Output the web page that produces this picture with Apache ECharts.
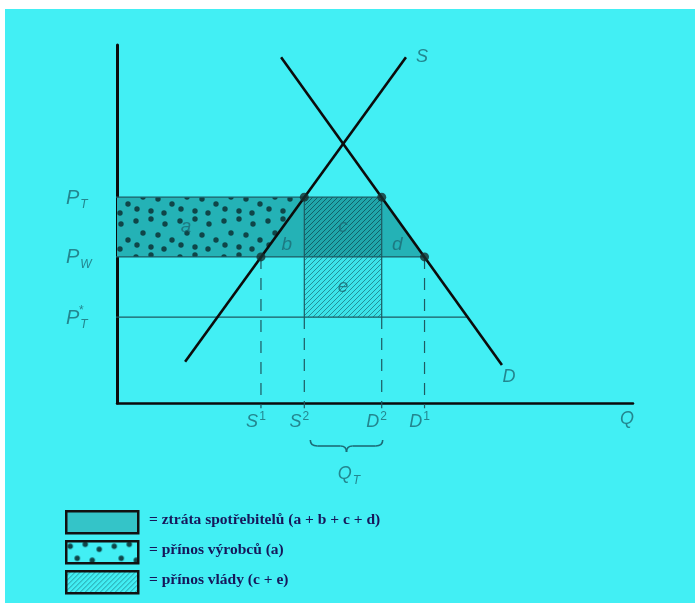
<!DOCTYPE html>
<html>
<head>
<meta charset="utf-8">
<script src="https://cdn.jsdelivr.net/npm/echarts@6/dist/echarts.min.js"></script>
<style>
html,body{margin:0;padding:0;background:#42eff4;overflow:hidden;}
#container{width:695px;height:603px;}
</style>
</head>
<body>
<div id="container"></div>
<script>
// cenové hladiny: P_T, P_W, P_T*
var priceValues = [57.5, 40.8, 24.0];
var priceLabels = ['{p|P}{sub|T}', '{p|P}{sub|W}', '{p|P}{sub|T}'];
// množství: S1, S2, D2, D1
var qValues = [27.9, 36.3, 51.3, 59.6];
var qLabels = ['{q|S}{sup|1}', '{q|S}{sup|2}', '{q|D}{sup|2}', '{q|D}{sup|1}'];
// nabídka a poptávka (koncové body)
var supplyLine = [[13.2, 11.5], [56.0, 96.6]];
var demandLine = [[31.8, 96.6], [74.6, 10.6]];
var tStarEnd = 67.8;
var areaLetters = ['a', 'b', 'c', 'd', 'e'];
var legendTexts = [
    '= ztráta spotřebitelů (a + b + c + d)',
    '= přínos výrobců (a)',
    '= přínos vlády (c + e)'
];

var PT = priceValues[0], PW = priceValues[1], PTs = priceValues[2];
var S1 = qValues[0], S2 = qValues[1], D2 = qValues[2], D1 = qValues[3];

var textColor = '#1c6b76';
var thinColor = '#1d5a62';

function dotPattern() {
    var c = document.createElement('canvas');
    c.width = 44; c.height = 36;
    var g = c.getContext('2d');
    g.fillStyle = '#0f4548';
    var pts = [[4,5],[19,3],[33,8],[11,17],[26,19],[40,24],[5,29],[19,31],[32,33]];
    pts.forEach(function (p) {
        g.beginPath(); g.arc(p[0], p[1], 2.7, 0, Math.PI * 2); g.fill();
    });
    return {image: c, repeat: 'repeat'};
}
function hatchPattern(col) {
    var c = document.createElement('canvas');
    c.width = 5; c.height = 5;
    var g = c.getContext('2d');
    g.strokeStyle = col; g.lineWidth = 1;
    g.beginPath();
    g.moveTo(0, 5); g.lineTo(5, 0);
    g.moveTo(-1, 1); g.lineTo(1, -1);
    g.moveTo(4, 6); g.lineTo(6, 4);
    g.stroke();
    return {image: c, repeat: 'repeat'};
}
var dots = dotPattern();
var hatch = hatchPattern('rgba(16,90,100,0.6)');
var hatchDark = hatchPattern('rgba(10,70,78,0.7)');

var regions = [
    {pts: [[0, PT], [D2, PT], [D1, PW], [0, PW]], fill: '#24b2b6'},
    {pts: [[0, PT], [S2, PT], [S1, PW], [0, PW]], fill: dots},
    {pts: [[S2, PT], [D2, PT], [D2, PW], [S2, PW]], fill: 'rgba(10,80,90,0.12)'},
    {pts: [[S2, PT], [D2, PT], [D2, PW], [S2, PW]], fill: hatchDark},
    {pts: [[S2, PW], [D2, PW], [D2, PTs], [S2, PTs]], fill: 'rgba(20,150,160,0.12)'},
    {pts: [[S2, PW], [D2, PW], [D2, PTs], [S2, PTs]], fill: hatch}
];

var letterPos = [
    [S1 * 0.48, (PT + PW) / 2],
    [S2 - 3.4, PW + 3.3],
    [(S2 + D2) / 2, (PT + PW) / 2],
    [D2 + 3.0, PW + 3.3],
    [(S2 + D2) / 2, (PW + PTs) / 2]
];

function lineSeries(data, color, width, dash) {
    return {
        type: 'line', data: data, symbol: 'none', clip: false, silent: true,
        lineStyle: {color: color, width: width, type: dash || 'solid'}, z: 3
    };
}

var series = [];
series.push({
    type: 'custom', silent: true, z: 1,
    data: regions.map(function (r, i) { return [i]; }),
    renderItem: function (params, api) {
        var r = regions[params.dataIndex];
        return {
            type: 'polygon',
            shape: {points: r.pts.map(function (p) { return api.coord(p); })},
            style: {fill: r.fill}
        };
    }
});
var priceEnds = [D2, D1, tStarEnd];
priceValues.forEach(function (p, i) {
    series.push(lineSeries([[-1.9, p], [priceEnds[i], p]], thinColor, 1.2));
});
series.push(lineSeries([[S2, PT], [S2, PTs]], thinColor, 1.2));
series.push(lineSeries([[D2, PT], [D2, PTs]], thinColor, 1.2));
series.push(lineSeries([[S1, PW], [S1, -1.5]], thinColor, 1.2, [12, 9]));
series.push(lineSeries([[S2, PTs], [S2, -1.5]], thinColor, 1.2, [12, 9]));
series.push(lineSeries([[D2, PTs], [D2, -1.5]], thinColor, 1.2, [12, 9]));
series.push(lineSeries([[D1, PW], [D1, -1.5]], thinColor, 1.2, [12, 9]));
var sLine = lineSeries(supplyLine, '#0c0c0c', 2.6); sLine.z = 5; series.push(sLine);
var dLine = lineSeries(demandLine, '#0c0c0c', 2.6); dLine.z = 5; series.push(dLine);

series.push({
    type: 'scatter', silent: true, z: 6, symbolSize: 9,
    itemStyle: {color: '#14302f'},
    data: [[S1, PW], [S2, PT], [D2, PT], [D1, PW]]
});

var baseFont = {fontFamily: 'Liberation Sans', fontStyle: 'italic', color: textColor};
function rich() {
    return {
        p: Object.assign({fontSize: 20}, baseFont),
        q: Object.assign({fontSize: 18}, baseFont),
        sub: Object.assign({fontSize: 12, padding: [14, 0, 0, 1]}, baseFont),
        sup: {fontFamily: 'Liberation Sans', fontSize: 12, color: textColor, padding: [0, 0, 10, 1]}
    };
}

// popisky cen
series.push({
    type: 'scatter', silent: true, symbolSize: 0, z: 7,
    data: priceValues.map(function (p, i) {
        return {value: [0, p], label: {formatter: priceLabels[i]}};
    }),
    label: {show: true, position: 'left', align: 'left', distance: 0, offset: [-51, 1], rich: rich()}
});
series.push({
    type: 'scatter', silent: true, symbolSize: 0, z: 7,
    data: [[0, PTs]],
    label: {show: true, position: 'left', align: 'left', distance: 0, offset: [-38, -6],
        formatter: '*', fontFamily: 'Liberation Sans', fontSize: 12, color: textColor}
});
// popisky množství
series.push({
    type: 'scatter', silent: true, symbolSize: 0, z: 7,
    data: qValues.map(function (q, i) {
        return {value: [q, 0], label: {formatter: qLabels[i]}};
    }),
    label: {show: true, position: 'bottom', distance: 0, offset: [-5, 8], rich: rich()}
});
// písmena ploch
series.push({
    type: 'scatter', silent: true, symbolSize: 0, z: 7,
    data: letterPos.map(function (p, i) {
        return {value: p, label: {formatter: areaLetters[i]}};
    }),
    label: {show: true, position: 'inside', fontFamily: 'Liberation Sans', fontStyle: 'italic',
        fontSize: 19, color: textColor}
});
// S, D, Q, Q_T
series.push({
    type: 'scatter', silent: true, symbolSize: 0, z: 7,
    data: [
        {value: supplyLine[1], label: {formatter: 'S', position: 'right', distance: 10}},
        {value: demandLine[1], label: {formatter: 'D', position: 'bottom', distance: 3, offset: [7, 0]}},
        {value: [100, 0], label: {formatter: '{q|Q}', position: 'bottom', distance: 7, offset: [-6, 0]}},
        {value: [(S2 + D2) / 2, 0], label: {formatter: '{q|Q}{sub|T}', position: 'bottom', distance: 58, offset: [6, 0]}}
    ],
    label: {show: true, fontFamily: 'Liberation Sans', fontStyle: 'italic', fontSize: 18,
        color: textColor, rich: rich()}
});
// složená závorka pod Q_T
series.push({
    type: 'custom', silent: true, z: 7,
    data: [[0]],
    renderItem: function (params, api) {
        var a = api.coord([S2, 0]), b = api.coord([D2, 0]);
        var L = a[0] + 6, R = b[0] + 1, top = a[1] + 37, M = (L + R) / 2;
        var st = {stroke: textColor, lineWidth: 1.6, fill: null};
        function q(x1, y1, cx, cy, x2, y2) {
            return {type: 'bezierCurve', shape: {x1: x1, y1: y1, cpx1: cx, cpy1: cy, x2: x2, y2: y2}, style: st};
        }
        function l(x1, y1, x2, y2) {
            return {type: 'line', shape: {x1: x1, y1: y1, x2: x2, y2: y2}, style: st};
        }
        return {
            type: 'group',
            children: [
                q(L, top, L, top + 6, L + 7, top + 6),
                l(L + 7, top + 6, M - 6, top + 6),
                q(M - 6, top + 6, M, top + 6, M, top + 12),
                q(M, top + 12, M, top + 6, M + 6, top + 6),
                l(M + 6, top + 6, R - 7, top + 6),
                q(R - 7, top + 6, R, top + 6, R, top)
            ]
        };
    }
});

var legendFills = ['#34c4c8', dots, hatch];
var legendTops = [510, 540, 570];
var graphics = [
    {type: 'rect', left: 0, top: 0, shape: {width: 695, height: 9}, style: {fill: '#fff'}},
    {type: 'rect', left: 0, top: 0, shape: {width: 5, height: 603}, style: {fill: '#fff'}}
];
legendTexts.forEach(function (t, i) {
    graphics.push({
        type: 'rect', left: 65, top: legendTops[i],
        shape: {width: 72, height: 22},
        style: {fill: legendFills[i], stroke: '#111', lineWidth: 2.5}
    });
    graphics.push({
        type: 'text', left: 149, top: legendTops[i] + 2,
        style: {text: t, fill: '#17175a', font: 'bold 15.5px "Liberation Serif"'}
    });
});

var option = {
    backgroundColor: '#42eff4',
    animation: false,
    grid: {left: 117, right: 62, top: 45, bottom: 200},
    xAxis: {
        type: 'value', min: 0, max: 100,
        axisLine: {lineStyle: {color: '#0b0b0b', width: 2.5}},
        axisTick: {show: false}, axisLabel: {show: false}, splitLine: {show: false}
    },
    yAxis: {
        type: 'value', min: 0, max: 100,
        axisLine: {lineStyle: {color: '#0b0b0b', width: 3}},
        axisTick: {show: false}, axisLabel: {show: false}, splitLine: {show: false}
    },
    graphic: graphics,
    series: series
};

var myChart = echarts.init(document.getElementById('container'));
myChart.setOption(option);
</script>
</body>
</html>
